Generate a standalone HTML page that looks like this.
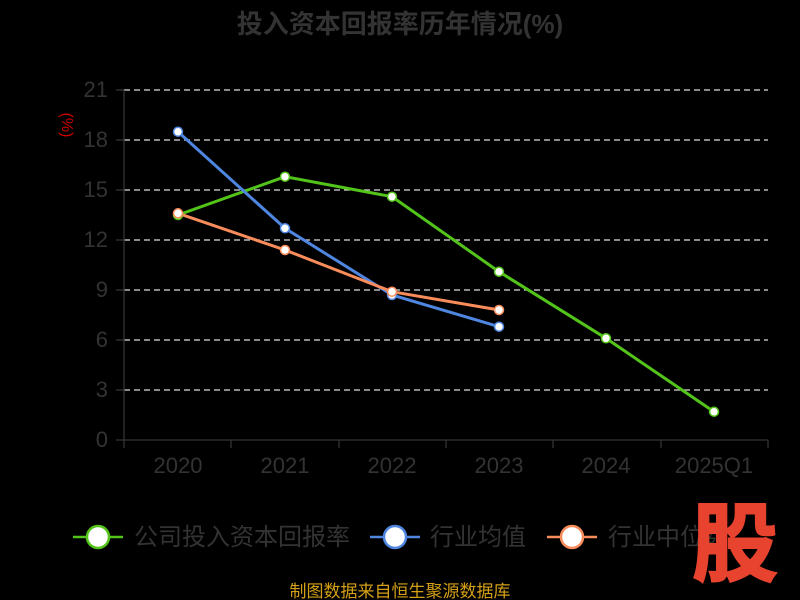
<!DOCTYPE html>
<html><head><meta charset="utf-8"><style>body{margin:0;background:#000}svg{display:block}text{font-family:"Liberation Sans","Noto Sans CJK SC",sans-serif}</style></head><body>
<svg width="800" height="600" viewBox="0 0 800 600">
<rect width="800" height="600" fill="#000"/>
<text x="400" y="33" text-anchor="middle" font-size="26" font-weight="bold" fill="#333">投入资本回报率历年情况(%)</text>
<text x="62" y="125" fill="#c00" font-size="16" transform="rotate(90 62 125)" text-anchor="middle">(%)</text>
<g stroke="#ddd" stroke-dasharray="6,4" stroke-width="1.3">
<line x1="124" y1="90" x2="768" y2="90"/><line x1="124" y1="140" x2="768" y2="140"/><line x1="124" y1="190" x2="768" y2="190"/><line x1="124" y1="240" x2="768" y2="240"/><line x1="124" y1="290" x2="768" y2="290"/><line x1="124" y1="340" x2="768" y2="340"/><line x1="124" y1="390" x2="768" y2="390"/>
</g>
<g stroke="#333" stroke-width="1.3"><line x1="124" y1="90" x2="124" y2="440"/><line x1="124" y1="440" x2="768" y2="440"/>
<line x1="116" y1="90" x2="124" y2="90"/><line x1="116" y1="140" x2="124" y2="140"/><line x1="116" y1="190" x2="124" y2="190"/><line x1="116" y1="240" x2="124" y2="240"/><line x1="116" y1="290" x2="124" y2="290"/><line x1="116" y1="340" x2="124" y2="340"/><line x1="116" y1="390" x2="124" y2="390"/><line x1="116" y1="440" x2="124" y2="440"/>
<line x1="124" y1="440" x2="124" y2="448"/><line x1="231" y1="440" x2="231" y2="448"/><line x1="339" y1="440" x2="339" y2="448"/><line x1="446" y1="440" x2="446" y2="448"/><line x1="553" y1="440" x2="553" y2="448"/><line x1="661" y1="440" x2="661" y2="448"/><line x1="768" y1="440" x2="768" y2="448"/></g>
<g fill="#333" font-size="22" text-anchor="end"><text x="108" y="97">21</text><text x="108" y="147">18</text><text x="108" y="197">15</text><text x="108" y="247">12</text><text x="108" y="297">9</text><text x="108" y="347">6</text><text x="108" y="397">3</text><text x="108" y="447">0</text></g>
<g fill="#333" font-size="22" text-anchor="middle"><text x="178" y="473">2020</text><text x="285" y="473">2021</text><text x="392" y="473">2022</text><text x="499" y="473">2023</text><text x="606" y="473">2024</text><text x="714" y="473">2025Q1</text></g>
<polyline fill="none" stroke="#52c41a" stroke-width="3" points="178,215 285,176.7 392,196.7 499,271.7 606,338.3 714,411.7"/>
<polyline fill="none" stroke="#4e86e0" stroke-width="3" points="178,131.7 285,228.3 392,295 499,326.7"/>
<polyline fill="none" stroke="#f98c5b" stroke-width="3" points="178,213.3 285,250 392,291.7 499,310"/>
<g fill="#fff" stroke-width="1.5">
<g stroke="#52c41a"><circle cx="178" cy="215" r="4.5"/><circle cx="285" cy="176.7" r="4.5"/><circle cx="392" cy="196.7" r="4.5"/><circle cx="499" cy="271.7" r="4.5"/><circle cx="606" cy="338.3" r="4.5"/><circle cx="714" cy="411.7" r="4.5"/></g>
<g stroke="#4e86e0"><circle cx="178" cy="131.7" r="4.5"/><circle cx="285" cy="228.3" r="4.5"/><circle cx="392" cy="295" r="4.5"/><circle cx="499" cy="326.7" r="4.5"/></g>
<g stroke="#f98c5b"><circle cx="178" cy="213.3" r="4.5"/><circle cx="285" cy="250" r="4.5"/><circle cx="392" cy="291.7" r="4.5"/><circle cx="499" cy="310" r="4.5"/></g>
</g>
<g stroke-width="2.5">
<line x1="73" y1="537" x2="123" y2="537" stroke="#52c41a"/><ellipse cx="98" cy="537" rx="11" ry="11" fill="#fff" stroke="#52c41a"/>
<line x1="370" y1="537" x2="420" y2="537" stroke="#4e86e0"/><ellipse cx="395" cy="537" rx="11" ry="11" fill="#fff" stroke="#4e86e0"/>
<line x1="547" y1="537" x2="597" y2="537" stroke="#f98c5b"/><ellipse cx="572" cy="537" rx="11" ry="11" fill="#fff" stroke="#f98c5b"/>
</g>
<g fill="#333" font-size="24"><text x="134" y="545">公司投入资本回报率</text><text x="430" y="545">行业均值</text><text x="608" y="545">行业中位数</text></g>
<text x="778" y="574" text-anchor="end" font-size="86" font-weight="bold" fill="#e8432e" stroke="#e8432e" stroke-width="2">股</text>
<text x="400" y="597" text-anchor="middle" font-size="17" fill="#d4a017">制图数据来自恒生聚源数据库</text>
</svg>
</body></html>
